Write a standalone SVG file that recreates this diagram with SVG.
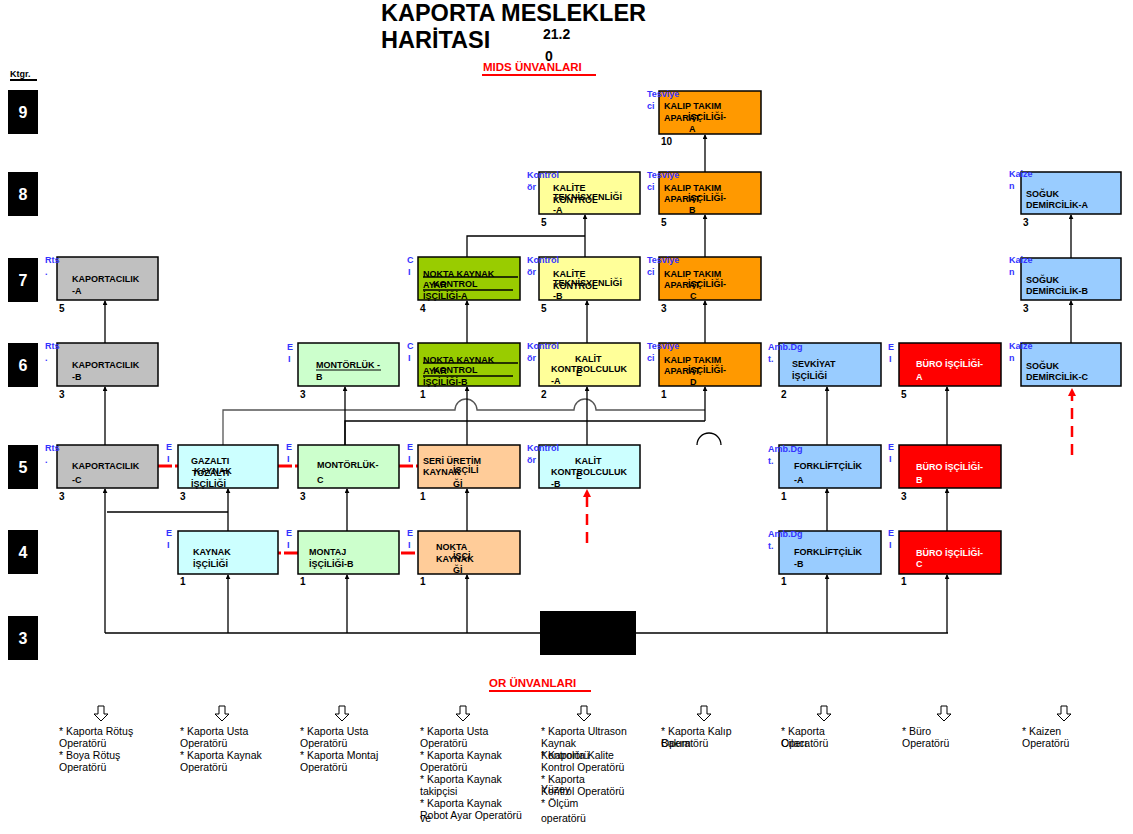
<svg xmlns="http://www.w3.org/2000/svg" width="1133" height="834" viewBox="0 0 1133 834">
<defs>
<style>
.t{font-family:"Liberation Sans",Arial,sans-serif;font-weight:bold;font-size:9px;fill:#000}
.w{fill:#fff}
.lb{font-family:"Liberation Sans",Arial,sans-serif;font-weight:bold;font-size:9px;fill:#3333ff}
.n{font-family:"Liberation Sans",Arial,sans-serif;font-weight:bold;font-size:10px;fill:#000}
.o{font-family:"Liberation Sans",Arial,sans-serif;font-size:10.5px;fill:#000}
.k{font-family:"Liberation Sans",Arial,sans-serif;font-weight:bold;font-size:16px;fill:#fff;text-anchor:middle}
.box{stroke:#000;stroke-width:1.5}
.c{fill:none;stroke:#000;stroke-width:1.3}
.a{marker-end:url(#ah)}
.g{fill:none;stroke:#555;stroke-width:1.3}
.rd{fill:none;stroke:#ff0000;stroke-width:3;stroke-dasharray:14 3 3 3}
.rv{fill:none;stroke:#ff0000;stroke-width:2.5;stroke-dasharray:11 7}
.dn{fill:#fff;stroke:#000;stroke-width:1}
</style>
<marker id="ah" viewBox="0 0 6 6" refX="5" refY="3" markerWidth="5" markerHeight="5" orient="auto" markerUnits="userSpaceOnUse"><path d="M0,0 L6,3 L0,6 Z" fill="#000"/></marker>
</defs>
<rect width="1133" height="834" fill="#fff"/>

<g id="title">
<text x="381" y="21" font-family="Liberation Sans,Arial,sans-serif" font-weight="bold" font-size="23.5">KAPORTA MESLEKLER</text>
<text x="381" y="48" font-family="Liberation Sans,Arial,sans-serif" font-weight="bold" font-size="23.5">HARİTASI</text>
<text x="543" y="39" font-family="Liberation Sans,Arial,sans-serif" font-weight="bold" font-size="14">21.2</text>
<text x="545" y="61" font-family="Liberation Sans,Arial,sans-serif" font-weight="bold" font-size="14">0</text>
<text x="483" y="71" font-family="Liberation Sans,Arial,sans-serif" font-weight="bold" font-size="11.5" fill="#ff0000">MIDS ÜNVANLARI</text>
<line x1="482" y1="75" x2="596" y2="75" stroke="#ff0000" stroke-width="2"/>
<text x="10" y="77" font-family="Liberation Sans,Arial,sans-serif" font-weight="bold" font-size="9">Ktgr.</text>
<line x1="10" y1="80" x2="37" y2="80" stroke="#000" stroke-width="2"/>
<text x="489" y="687" font-family="Liberation Sans,Arial,sans-serif" font-weight="bold" font-size="11.5" fill="#ff0000">OR ÜNVANLARI</text>
<line x1="489" y1="691" x2="591" y2="691" stroke="#ff0000" stroke-width="2"/>
</g>

<g id="categories">
<rect x="8" y="90" width="30" height="44" fill="#000"/><text class="k" x="23" y="118">9</text>
<rect x="8" y="172" width="30" height="44" fill="#000"/><text class="k" x="23" y="200">8</text>
<rect x="8" y="258" width="30" height="44" fill="#000"/><text class="k" x="23" y="286">7</text>
<rect x="8" y="343" width="30" height="44" fill="#000"/><text class="k" x="23" y="371">6</text>
<rect x="8" y="445" width="30" height="44" fill="#000"/><text class="k" x="23" y="473">5</text>
<rect x="8" y="530" width="30" height="44" fill="#000"/><text class="k" x="23" y="558">4</text>
<rect x="8" y="616" width="30" height="44" fill="#000"/><text class="k" x="23" y="644">3</text>
</g>

<g id="connectors">
<path class="c a" d="M105,343 V301"/>
<path class="c a" d="M105,445 V387"/>
<path class="c a" d="M105,633 V489"/>
<path class="c" d="M107,512 H228"/>
<path class="c a" d="M228,531 V489"/>
<path class="c a" d="M228,633 V575"/>
<path class="g" d="M223,445 V410 H455 A11,11 0 0 1 477,410 H574 A11,11 0 0 1 596,410 H705"/>
<path class="c" d="M345,445 V421 H705"/>
<path class="c a" d="M345,445 V387"/>
<path class="c a" d="M347,531 V489"/>
<path class="c a" d="M347,633 V575"/>
<path class="c a" d="M467,633 V575"/>
<path class="c a" d="M467,531 V489"/>
<path class="c a" d="M467,445 V387"/>
<path class="c a" d="M467,343 V301"/>
<path class="c" d="M467,257 V236 H585"/>
<path class="c a" d="M585,257 V215"/>
<path class="c a" d="M587,343 V301"/>
<path class="c a" d="M587,445 V387"/>
<path class="c a" d="M705,172 V135"/>
<path class="c a" d="M705,257 V215"/>
<path class="c a" d="M705,343 V301"/>
<path class="c a" d="M705,421 V387"/>
<path class="c" d="M697,445 A11,11 0 0 1 721,445"/>
<path class="c a" d="M827,445 V387"/>
<path class="c a" d="M827,531 V489"/>
<path class="c a" d="M827,633 V575"/>
<path class="c a" d="M947,445 V387"/>
<path class="c a" d="M947,531 V489"/>
<path class="c a" d="M947,633 V575"/>
<path class="c a" d="M1071,258 V215"/>
<path class="c a" d="M1071,343 V301"/>
<path class="c" d="M105,633 H948"/>
<path class="rd" d="M158,466 H178"/>
<path class="rd" d="M278,466 H298"/>
<path class="rd" d="M399,466 H418"/>
<path class="rd" d="M298,553 H278"/>
<path class="rd" d="M401,553 H418"/>
<path class="rv" d="M587,543 V496"/>
<path d="M583,497 L587,489 L591,497 Z" fill="#ff0000"/>
<path class="rv" d="M1072,455 V396"/>
<path d="M1068,396 L1072,388 L1076,396 Z" fill="#ff0000"/>
<rect x="540" y="611" width="96" height="44" fill="#000"/>
</g>

<g id="kalip-a"><rect class="box" x="659" y="91" width="102" height="43" fill="#ff9900"/>
<text class="t" x="664" y="109">KALIP TAKIM</text><text class="t" x="664" y="121">APARAT</text><text class="t" x="688" y="120">İŞÇİLİĞİ-</text><text class="t" x="689" y="132">A</text>
<text class="lb" x="647" y="97">Tesviye</text><text class="lb" x="647" y="109">ci</text><text class="n" x="661" y="145">10</text></g>

<g id="kalite-a"><rect class="box" x="539" y="172" width="101" height="42" fill="#ffff99"/>
<text class="t" x="553" y="191">KALİTE</text><text class="t" x="553" y="200">TEKNİSYENLİĞİ</text><text class="t" x="553" y="203">KONTROL</text><text class="t" x="553" y="213">-A</text>
<text class="lb" x="527" y="178">Kontrol</text><text class="lb" x="527" y="190">ör</text><text class="n" x="541" y="226">5</text></g>

<g id="kalip-b"><rect class="box" x="659" y="172" width="102" height="42" fill="#ff9900"/>
<text class="t" x="664" y="191">KALIP TAKIM</text><text class="t" x="664" y="202">APARAT</text><text class="t" x="688" y="201">İŞÇİLİĞİ-</text><text class="t" x="689" y="213">B</text>
<text class="lb" x="647" y="178">Tesviye</text><text class="lb" x="647" y="190">ci</text><text class="n" x="661" y="226">5</text></g>

<g id="soguk-a"><rect class="box" x="1021" y="172" width="100" height="42" fill="#99ccff"/>
<text class="t" x="1026" y="197">SOĞUK</text><text class="t" x="1026" y="208">DEMİRCİLİK-A</text>
<text class="lb" x="1009" y="177">Kaize</text><text class="lb" x="1009" y="189">n</text><text class="n" x="1023" y="226">3</text></g>

<g id="kap-a"><rect class="box" x="57" y="257" width="101" height="43" fill="#c0c0c0"/>
<text class="t" x="72" y="282">KAPORTACILIK</text><text class="t" x="72" y="294">-A</text>
<text class="lb" x="45" y="263">Rts</text><text class="lb" x="45" y="275">.</text><text class="n" x="59" y="312">5</text></g>

<g id="nk-a"><rect class="box" x="418" y="257" width="102" height="43" fill="#99cc00"/>
<text class="t" x="423" y="277">NOKTA KAYNAK</text><line x1="423" y1="277" x2="518" y2="277" stroke="#000" stroke-width="1.5"/>
<text class="t" x="423" y="288">AYAR</text><text class="t" x="433" y="287">KONTROL</text><line x1="423" y1="290" x2="513" y2="290" stroke="#000" stroke-width="1.5"/>
<text class="t" x="423" y="299">İŞÇİLİĞİ-A</text>
<text class="lb" x="407" y="263">C</text><text class="lb" x="408" y="275">I</text><text class="n" x="420" y="312">4</text></g>

<g id="kalite-b"><rect class="box" x="539" y="257" width="101" height="43" fill="#ffff99"/>
<text class="t" x="553" y="277">KALİTE</text><text class="t" x="553" y="286">TEKNİSYENLİĞİ</text><text class="t" x="553" y="289">KONTROL</text><text class="t" x="553" y="299">-B</text>
<text class="lb" x="527" y="263">Kontrol</text><text class="lb" x="527" y="275">ör</text><text class="n" x="541" y="312">5</text></g>

<g id="kalip-c"><rect class="box" x="659" y="257" width="102" height="43" fill="#ff9900"/>
<text class="t" x="664" y="277">KALIP TAKIM</text><text class="t" x="664" y="288">APARAT</text><text class="t" x="688" y="287">İŞÇİLİĞİ-</text><text class="t" x="690" y="299">C</text>
<text class="lb" x="647" y="263">Tesviye</text><text class="lb" x="647" y="275">ci</text><text class="n" x="661" y="312">3</text></g>

<g id="soguk-b"><rect class="box" x="1021" y="258" width="100" height="42" fill="#99ccff"/>
<text class="t" x="1026" y="283">SOĞUK</text><text class="t" x="1026" y="294">DEMİRCİLİK-B</text>
<text class="lb" x="1009" y="263">Kaize</text><text class="lb" x="1009" y="275">n</text><text class="n" x="1023" y="312">3</text></g>

<g id="kap-b"><rect class="box" x="57" y="343" width="101" height="43" fill="#c0c0c0"/>
<text class="t" x="72" y="368">KAPORTACILIK</text><text class="t" x="72" y="380">-B</text>
<text class="lb" x="45" y="349">Rts</text><text class="lb" x="45" y="361">.</text><text class="n" x="59" y="398">3</text></g>

<g id="mont-b"><rect class="box" x="298" y="343" width="101" height="43" fill="#ccffcc"/>
<text class="t" x="316" y="368">MONTÖRLÜK -</text><line x1="316" y1="370" x2="381" y2="370" stroke="#000" stroke-width="1"/><text class="t" x="316" y="380">B</text>
<text class="lb" x="287" y="350">E</text><text class="lb" x="288" y="362">I</text><text class="n" x="300" y="398">3</text></g>

<g id="nk-b"><rect class="box" x="418" y="343" width="102" height="43" fill="#99cc00"/>
<text class="t" x="423" y="363">NOKTA KAYNAK</text><line x1="423" y1="363" x2="518" y2="363" stroke="#000" stroke-width="1.5"/>
<text class="t" x="423" y="374">AYAR</text><text class="t" x="433" y="373">KONTROL</text><line x1="423" y1="376" x2="513" y2="376" stroke="#000" stroke-width="1.5"/>
<text class="t" x="423" y="385">İŞÇİLİĞİ-B</text>
<text class="lb" x="407" y="349">C</text><text class="lb" x="408" y="361">I</text><text class="n" x="420" y="398">1</text></g>

<g id="kalit-a"><rect class="box" x="539" y="343" width="101" height="43" fill="#ffff99"/>
<text class="t" x="575" y="362">KALİT</text><text class="t" x="551" y="372">KONTROLCULUK</text><text class="t" x="576" y="376">E</text><text class="t" x="551" y="384">-A</text>
<text class="lb" x="527" y="349">Kontrol</text><text class="lb" x="527" y="361">ör</text><text class="n" x="541" y="398">2</text></g>

<g id="kalip-d"><rect class="box" x="659" y="343" width="102" height="43" fill="#ff9900"/>
<text class="t" x="664" y="363">KALIP TAKIM</text><text class="t" x="664" y="374">APARAT</text><text class="t" x="688" y="373">İŞÇİLİĞİ-</text><text class="t" x="690" y="385">D</text>
<text class="lb" x="647" y="349">Tesviye</text><text class="lb" x="647" y="361">ci</text><text class="n" x="661" y="398">1</text></g>

<g id="sevkiyat"><rect class="box" x="779" y="343" width="102" height="43" fill="#99ccff"/>
<text class="t" x="792" y="367">SEVKİYAT</text><text class="t" x="792" y="379">İŞÇİLİĞİ</text>
<text class="lb" x="768" y="350">Amb.Dg</text><text class="lb" x="768" y="362">t.</text><text class="n" x="781" y="398">2</text></g>

<g id="buro-a"><rect class="box" x="899" y="343" width="102" height="43" fill="#ff0000"/>
<text class="t w" x="916" y="367">BÜRO İŞÇİLİĞİ-</text><text class="t w" x="916" y="380">A</text>
<text class="lb" x="888" y="350">E</text><text class="lb" x="889" y="362">I</text><text class="n" x="901" y="398">5</text></g>

<g id="soguk-c"><rect class="box" x="1021" y="343" width="100" height="43" fill="#99ccff"/>
<text class="t" x="1026" y="369">SOĞUK</text><text class="t" x="1026" y="380">DEMİRCİLİK-C</text>
<text class="lb" x="1009" y="349">Kaize</text><text class="lb" x="1009" y="361">n</text></g>

<g id="kap-c"><rect class="box" x="57" y="445" width="101" height="43" fill="#c0c0c0"/>
<text class="t" x="72" y="469">KAPORTACILIK</text><text class="t" x="72" y="483">-C</text>
<text class="lb" x="45" y="451">Rts</text><text class="lb" x="45" y="463">.</text><text class="n" x="59" y="500">3</text></g>

<g id="gazalti"><rect class="box" x="178" y="445" width="100" height="43" fill="#ccffff"/>
<text class="t" x="191" y="464">GAZALTI</text><text class="t" x="192" y="476">TOZALTI</text><text class="t" x="194" y="474">KAYNAK</text><text class="t" x="191" y="487">İŞÇİLİĞİ</text>
<text class="lb" x="166" y="450">E</text><text class="lb" x="167" y="462">I</text><text class="n" x="180" y="500">3</text></g>

<g id="mont-c"><rect class="box" x="298" y="445" width="101" height="43" fill="#ccffcc"/>
<text class="t" x="317" y="468">MONTÖRLÜK-</text><text class="t" x="317" y="483">C</text>
<text class="lb" x="286" y="450">E</text><text class="lb" x="287" y="462">I</text><text class="n" x="300" y="500">3</text></g>

<g id="seri"><rect class="box" x="418" y="445" width="102" height="43" fill="#ffcc99"/>
<text class="t" x="423" y="464">SERİ ÜRETİM</text><text class="t" x="423" y="475">KAYNAK</text><text class="t" x="453" y="473">İŞÇİLİ</text><text class="t" x="453" y="487">Ğİ</text>
<text class="lb" x="407" y="450">E</text><text class="lb" x="408" y="462">I</text><text class="n" x="420" y="500">1</text></g>

<g id="kalit-b"><rect class="box" x="539" y="445" width="101" height="43" fill="#ccffff"/>
<text class="t" x="575" y="464">KALİT</text><text class="t" x="551" y="475">KONTROLCULUK</text><text class="t" x="576" y="479">E</text><text class="t" x="551" y="487">-B</text>
<text class="lb" x="527" y="451">Kontrol</text><text class="lb" x="527" y="463">ör</text></g>

<g id="fork-a"><rect class="box" x="779" y="445" width="102" height="43" fill="#99ccff"/>
<text class="t" x="794" y="469">FORKLİFTÇİLİK</text><text class="t" x="794" y="483">-A</text>
<text class="lb" x="768" y="452">Amb.Dg</text><text class="lb" x="768" y="464">t.</text><text class="n" x="781" y="500">1</text></g>

<g id="buro-b"><rect class="box" x="899" y="445" width="102" height="43" fill="#ff0000"/>
<text class="t w" x="916" y="470">BÜRO İŞÇİLİĞİ-</text><text class="t w" x="916" y="483">B</text>
<text class="lb" x="888" y="450">E</text><text class="lb" x="889" y="462">I</text><text class="n" x="901" y="500">3</text></g>

<g id="kaynak"><rect class="box" x="178" y="531" width="100" height="43" fill="#ccffff"/>
<text class="t" x="193" y="555">KAYNAK</text><text class="t" x="193" y="567">İŞÇİLİĞİ</text>
<text class="lb" x="166" y="536">E</text><text class="lb" x="167" y="548">I</text><text class="n" x="180" y="585">1</text></g>

<g id="montaj"><rect class="box" x="298" y="531" width="101" height="43" fill="#ccffcc"/>
<text class="t" x="309" y="555">MONTAJ</text><text class="t" x="309" y="567">İŞÇİLİĞİ-B</text>
<text class="lb" x="286" y="536">E</text><text class="lb" x="287" y="548">I</text><text class="n" x="300" y="585">1</text></g>

<g id="nokta"><rect class="box" x="418" y="531" width="102" height="43" fill="#ffcc99"/>
<text class="t" x="436" y="550">NOKTA</text><text class="t" x="436" y="562">KAYNAK</text><text class="t" x="453" y="559">İŞÇİ</text><text class="t" x="453" y="573">Ğİ</text>
<text class="lb" x="407" y="536">E</text><text class="lb" x="408" y="548">I</text><text class="n" x="420" y="585">1</text></g>

<g id="fork-b"><rect class="box" x="779" y="531" width="102" height="43" fill="#99ccff"/>
<text class="t" x="794" y="555">FORKLİFTÇİLİK</text><text class="t" x="794" y="567">-B</text>
<text class="lb" x="768" y="537">Amb.Dg</text><text class="lb" x="768" y="549">t.</text><text class="n" x="781" y="585">1</text></g>

<g id="buro-c"><rect class="box" x="899" y="531" width="102" height="43" fill="#ff0000"/>
<text class="t w" x="916" y="556">BÜRO İŞÇİLİĞİ-</text><text class="t w" x="916" y="567">C</text>
<text class="lb" x="888" y="536">E</text><text class="lb" x="889" y="548">I</text><text class="n" x="901" y="585">1</text></g>

<g id="or-titles">
<path class="dn" d="M98,706 h6 v8 h4 l-7,7 l-7,-7 h4 z"/>
<path class="dn" d="M219,706 h6 v8 h4 l-7,7 l-7,-7 h4 z"/>
<path class="dn" d="M339,706 h6 v8 h4 l-7,7 l-7,-7 h4 z"/>
<path class="dn" d="M460,706 h6 v8 h4 l-7,7 l-7,-7 h4 z"/>
<path class="dn" d="M581,706 h6 v8 h4 l-7,7 l-7,-7 h4 z"/>
<path class="dn" d="M701,706 h6 v8 h4 l-7,7 l-7,-7 h4 z"/>
<path class="dn" d="M821,706 h6 v8 h4 l-7,7 l-7,-7 h4 z"/>
<path class="dn" d="M941,706 h6 v8 h4 l-7,7 l-7,-7 h4 z"/>
<path class="dn" d="M1061,706 h6 v8 h4 l-7,7 l-7,-7 h4 z"/>
<text class="o" x="59" y="735">* Kaporta Rötuş</text><text class="o" x="59" y="747">Operatörü</text><text class="o" x="59" y="759">* Boya Rötuş</text><text class="o" x="59" y="771">Operatörü</text>
<text class="o" x="180" y="735">* Kaporta Usta</text><text class="o" x="180" y="747">Operatörü</text><text class="o" x="180" y="759">* Kaporta Kaynak</text><text class="o" x="180" y="771">Operatörü</text>
<text class="o" x="300" y="735">* Kaporta Usta</text><text class="o" x="300" y="747">Operatörü</text><text class="o" x="300" y="759">* Kaporta Montaj</text><text class="o" x="300" y="771">Operatörü</text>
<text class="o" x="420" y="735">* Kaporta Usta</text><text class="o" x="420" y="747">Operatörü</text><text class="o" x="420" y="759">* Kaporta Kaynak</text><text class="o" x="420" y="771">Operatörü</text><text class="o" x="420" y="783">* Kaporta Kaynak</text><text class="o" x="420" y="795">takipçisi</text><text class="o" x="420" y="807">* Kaporta Kaynak</text><text class="o" x="420" y="819">Robot Ayar Operatörü</text><text class="o" x="420" y="822">ve</text>
<text class="o" x="541" y="735">* Kaporta Ultrason</text><text class="o" x="541" y="747">Kaynak</text><text class="o" x="541" y="759">Kontrolörü</text><text class="o" x="541" y="759">* Kaporta Kalite</text><text class="o" x="541" y="771">Kontrol Operatörü</text><text class="o" x="541" y="783">* Kaporta</text><text class="o" x="541" y="795">Kontrol Operatörü</text><text class="o" x="541" y="793">Yüzey</text><text class="o" x="541" y="807">* Ölçüm</text><text class="o" x="541" y="822">operatörü</text>
<text class="o" x="661" y="735">* Kaporta Kalıp</text><text class="o" x="661" y="747">Operatörü</text><text class="o" x="661" y="747">Bakım</text>
<text class="o" x="781" y="735">* Kaporta</text><text class="o" x="781" y="747">Operatörü</text><text class="o" x="781" y="747">Cilacı</text>
<text class="o" x="902" y="735">* Büro</text><text class="o" x="902" y="747">Operatörü</text>
<text class="o" x="1022" y="735">* Kaizen</text><text class="o" x="1022" y="747">Operatörü</text>
</g>
</svg>
